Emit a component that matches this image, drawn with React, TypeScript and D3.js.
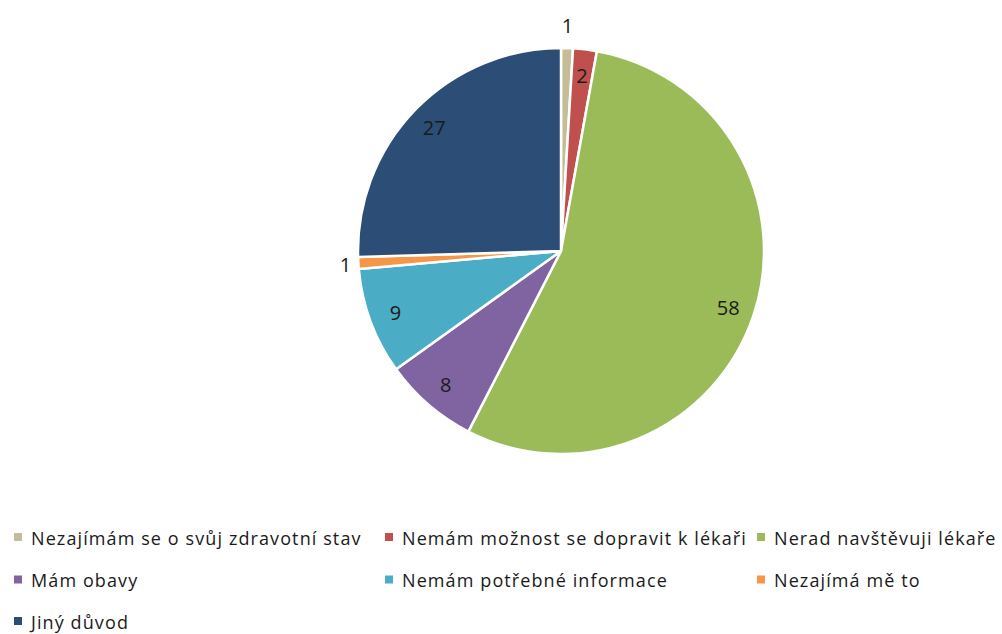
import React from "react";
import * as d3 from "d3";

// Reasons given (Czech survey answers) and the number of respondents for each
const categories = [
  "Nezajímám se o svůj zdravotní stav",
  "Nemám možnost se dopravit k lékaři",
  "Nerad navštěvuji lékaře",
  "Mám obavy",
  "Nemám potřebné informace",
  "Nezajímá mě to",
  "Jiný důvod",
];
const values = [1, 2, 58, 8, 9, 1, 27];
const colors = ["#C4BD97", "#C0504D", "#9BBB59", "#8064A2", "#4BACC6", "#F79646", "#2C4D75"];

const W = 1002;
const H = 634;
const CX = 561;
const CY = 251;
const R = 203;
const FONT = "'Open Sans', 'Noto Sans', sans-serif";

type Row = { name: string; value: number; color: string };
const rows: Row[] = categories.map((name, i) => ({ name, value: values[i], color: colors[i] }));

export default function App() {
  const pie = d3
    .pie<Row>()
    .value((d) => d.value)
    .sort(null)
    .startAngle(0)
    .endAngle(2 * Math.PI);
  const arcs = pie(rows);
  const arc = d3.arc<d3.PieArcDatum<Row>>().innerRadius(0).outerRadius(R);
  const labelArc = d3.arc<d3.PieArcDatum<Row>>().innerRadius(R * 0.87).outerRadius(R * 0.87);

  // legend grid: three columns, wrapping
  const colX = [14, 385, 757];
  const rowY = [537.5, 580, 621.5];

  return (
    <svg
      width={W}
      height={H}
      style={{ position: "absolute", left: 0, top: 0, display: "block", background: "#fff" }}
      fontFamily={FONT}
    >
      <g transform={`translate(${CX},${CY})`}>
        {arcs.map((a, i) => (
          <path key={i} d={arc(a) || ""} fill={a.data.color} stroke="#fff" strokeWidth={2.5} strokeLinejoin="round" />
        ))}
        {arcs.map((a, i) => {
          const mid = (a.startAngle + a.endAngle) / 2;
          let x: number;
          let y: number;
          if (a.data.value < 2) {
            // thin slices get their label just outside the rim
            x = Math.sin(mid) * (R + 13);
            y = -Math.cos(mid) * (R + 23);
          } else {
            [x, y] = labelArc.centroid(a);
          }
          return (
            <text
              key={i}
              x={x}
              y={y}
              textAnchor="middle"
              dominantBaseline="central"
              fontSize={20}
              fill="#1a1a1a"
            >
              {a.data.value}
            </text>
          );
        })}
      </g>
      <g>
        {rows.map((d, i) => {
          const col = i % 3;
          const row = Math.floor(i / 3);
          const x = colX[col];
          const y = rowY[row];
          return (
            <g key={i} transform={`translate(${x},${y})`}>
              <rect x={0} y={-4.5} width={8} height={8} fill={d.color} />
              <text
                x={17}
                y={0}
                dominantBaseline="central"
                fontSize={18}
                letterSpacing={1.1}
                fill="#1a1a1a"
              >
                {d.name}
              </text>
            </g>
          );
        })}
      </g>
    </svg>
  );
}
